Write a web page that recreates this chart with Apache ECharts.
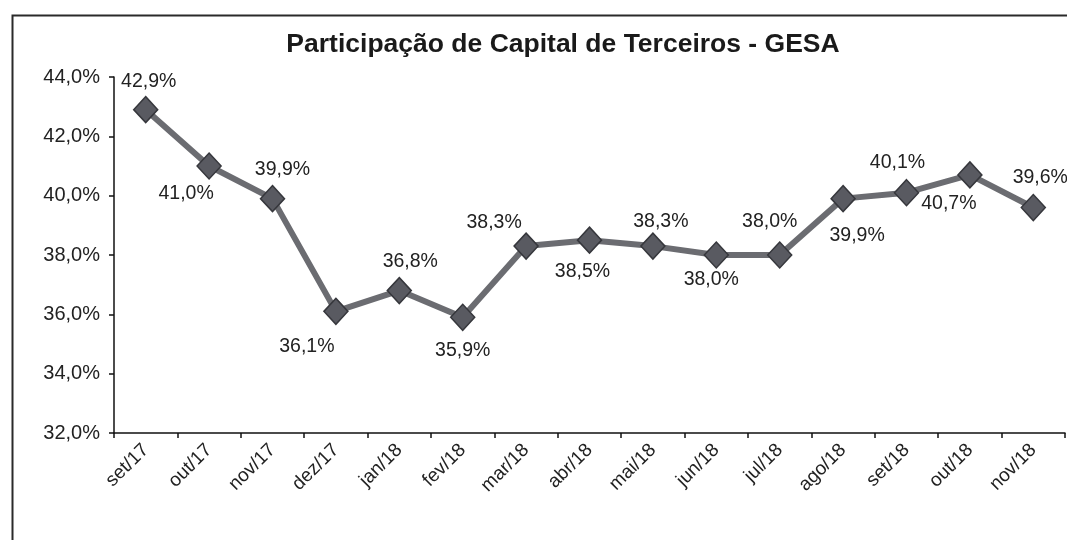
<!DOCTYPE html>
<html><head><meta charset="utf-8">
<script src="https://cdn.jsdelivr.net/npm/echarts@6/dist/echarts.min.js"></script>
<style>html,body{margin:0;padding:0;background:#fff}#c{width:1067px;height:540px}</style>
</head><body><div id="c"></div>
<script>
const categories = ['set/17','out/17','nov/17','dez/17','jan/18','fev/18','mar/18','abr/18','mai/18','jun/18','jul/18','ago/18','set/18','out/18','nov/18'];
const values = [42.9, 41.0, 39.9, 36.1, 36.8, 35.9, 38.3, 38.5, 38.3, 38.0, 38.0, 39.9, 40.1, 40.7, 39.6];
const title = 'Participação de Capital de Terceiros - GESA';

// label placement (layout only): offset of each value label from its marker centre
const labelOffsets = [[3,-28],[-23,28],[10,-29],[-29,35],[11,-29],[0,33],[-32,-23],[-7,31],[8,-24],[-5,25],[-10,-33],[14,37],[-9,-30],[-21,29],[7,-30]];

const FONT = 'Liberation Sans, Arial, sans-serif';
const fmt = v => v.toFixed(1).replace('.', ',') + '%';
const data = values.map((v,i)=>({value:v, label:{position:'inside', offset:labelOffsets[i]}}));

const chart = echarts.init(document.getElementById('c'));
chart.setOption({
  animation:false,
  backgroundColor:'#fff',
  textStyle:{fontFamily:FONT},
  title:{text:title, left:558, textAlign:'center', top:26,
    textStyle:{fontSize:26.5, fontWeight:'bold', color:'#1a1a1a', fontFamily:FONT}},
  graphic:[{type:'rect', left:10, top:13, shape:{width:1100, height:600},
    style:{fill:'none', stroke:'#2a2a2a', lineWidth:2}, silent:true}],
  grid:{left:114, top:77, right:2, bottom:107, containLabel:false},
  xAxis:{type:'category', data:categories, boundaryGap:true,
    axisLine:{lineStyle:{color:'#111', width:1.5}},
    axisTick:{show:true, length:5, inside:false, lineStyle:{color:'#111', width:1.5}},
    axisLabel:{rotate:45, fontSize:19, color:'#222', margin:14, interval:0, fontFamily:FONT},
    splitLine:{show:false}},
  yAxis:{type:'value', min:32, max:44, interval:2,
    axisLine:{show:true, lineStyle:{color:'#111', width:1.5}},
    axisTick:{show:true, length:5, lineStyle:{color:'#111', width:1.5}},
    axisLabel:{fontSize:20, color:'#222', margin:14, formatter:fmt, fontFamily:FONT},
    splitLine:{show:false}},
  series:[{type:'line', data:data,
    symbol:'diamond', symbolSize:[24,26],
    lineStyle:{color:'#6b6c71', width:6},
    itemStyle:{color:'#595a61', borderColor:'#36373c', borderWidth:1.5},
    label:{show:true, fontSize:19.5, color:'#222', formatter:p=>fmt(p.value), fontFamily:FONT}
  }]
});
</script></body></html>
